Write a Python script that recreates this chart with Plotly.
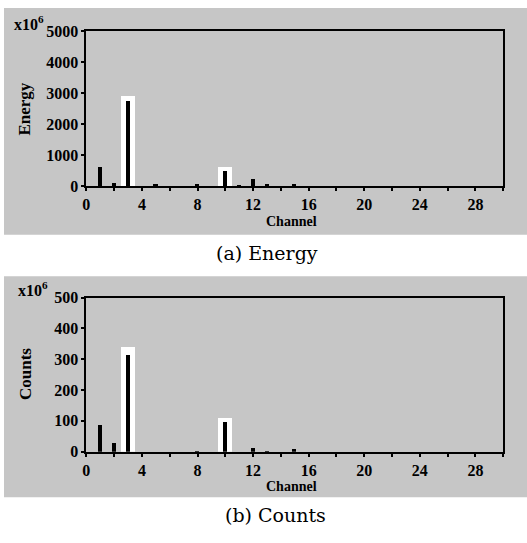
import plotly.graph_objects as go

W, H = 527, 543

channels = list(range(0, 31))
energy = [0, 600, 100, 2750, 0, 50, 0, 0, 80, 0, 480, 30, 220, 70, 0, 80, 0,
          0, 0, 0, 0, 0, 0, 0, 0, 0, 0, 0, 0, 0, 0]
counts = [0, 88, 28, 315, 0, 0, 0, 0, 4, 0, 97, 0, 14, 4, 0, 9, 0,
          0, 0, 0, 0, 0, 0, 0, 0, 0, 0, 0, 0, 0, 0]
hi_channels = [3, 10]
energy_hi = [2900, 600]
counts_hi = [340, 112]

x_ticks = [0, 4, 8, 12, 16, 20, 24, 28]
energy_ticks = [0, 1000, 2000, 3000, 4000, 5000]
counts_ticks = [0, 100, 200, 300, 400, 500]

def py(pix):
    return 1 - pix / H

def px(pix):
    return pix / W

def btxt(vals):
    return [f"<b>{v}</b>" for v in vals]

fig = go.Figure()
fig.add_trace(go.Bar(x=hi_channels, y=energy_hi, width=1.0, marker=dict(color="white", line_width=0),
                     xaxis="x", yaxis="y", showlegend=False))
fig.add_trace(go.Bar(x=channels, y=energy, width=0.3, marker=dict(color="black", line_width=0),
                     xaxis="x", yaxis="y", showlegend=False))
fig.add_trace(go.Bar(x=hi_channels, y=counts_hi, width=1.0, marker=dict(color="white", line_width=0),
                     xaxis="x2", yaxis="y2", showlegend=False))
fig.add_trace(go.Bar(x=channels, y=counts, width=0.3, marker=dict(color="black", line_width=0),
                     xaxis="x2", yaxis="y2", showlegend=False))

tickfont = dict(family="Liberation Serif", size=16, color="black")
xdom = [px(83), px(503)]

axis_common = dict(showline=True, linecolor="black", linewidth=2, mirror=True,
                   ticks="outside", ticklen=3, tickwidth=2, tickcolor="black",
                   showgrid=False, zeroline=False, tickfont=tickfont)

minor = dict(dtick=2, ticks="outside", ticklen=3, tickwidth=2, tickcolor="black")

fig.update_layout(
    width=W, height=H, margin=dict(l=0, r=0, t=0, b=0),
    paper_bgcolor="white", plot_bgcolor="rgba(0,0,0,0)",
    barmode="overlay", bargap=0,
    xaxis=dict(domain=xdom, range=[0, 30], anchor="y", tickvals=x_ticks, ticktext=btxt(x_ticks),
               minor=minor, **axis_common),
    yaxis=dict(domain=[py(184), py(24)], range=[0, 5000], anchor="x", tickvals=energy_ticks,
               ticktext=btxt(energy_ticks), **axis_common),
    xaxis2=dict(domain=xdom, range=[0, 30], anchor="y2", tickvals=x_ticks, ticktext=btxt(x_ticks),
                minor=minor, **axis_common),
    yaxis2=dict(domain=[py(458), py(299)], range=[0, 500], anchor="x2", tickvals=counts_ticks,
                ticktext=btxt(counts_ticks), **axis_common),
    shapes=[
        dict(type="rect", xref="paper", yref="paper", x0=0, x1=1, y0=py(234), y1=1,
             fillcolor="#c6c6c6", line_width=0, layer="below"),
        dict(type="rect", xref="paper", yref="paper", x0=0, x1=1, y0=py(505), y1=py(277),
             fillcolor="#c6c6c6", line_width=0, layer="below"),
    ],
)

bold = dict(family="Liberation Serif", size=16, color="black")
ann = [
    dict(text="<b>x10<sup>6</sup></b>", x=px(8), y=py(15), xanchor="left", yanchor="middle", font=bold),
    dict(text="<b>x10<sup>6</sup></b>", x=px(12), y=py(290), xanchor="left", yanchor="middle", font=bold),
    dict(text="<b>Energy</b>", x=px(21), y=py(104), textangle=-90, xanchor="center", yanchor="middle",
         font=dict(family="Liberation Serif", size=17, color="black")),
    dict(text="<b>Counts</b>", x=px(21), y=py(378), textangle=-90, xanchor="center", yanchor="middle",
         font=dict(family="Liberation Serif", size=17, color="black")),
    dict(text="<b>Channel</b>", x=px(290), y=py(220), xanchor="center", yanchor="middle",
         font=dict(family="Liberation Serif", size=14, color="black")),
    dict(text="<b>Channel</b>", x=px(290), y=py(494), xanchor="center", yanchor="middle",
         font=dict(family="Liberation Serif", size=14, color="black")),
    dict(text="(a) Energy", x=px(265), y=py(253), xanchor="center", yanchor="middle",
         font=dict(family="DejaVu Serif", size=19, color="black")),
    dict(text="(b) Counts", x=px(274), y=py(523), xanchor="center", yanchor="middle",
         font=dict(family="DejaVu Serif", size=19, color="black")),
]
for a in ann:
    a.update(xref="paper", yref="paper", showarrow=False)
fig.update_layout(annotations=ann)

fig.write_html("out.html")
